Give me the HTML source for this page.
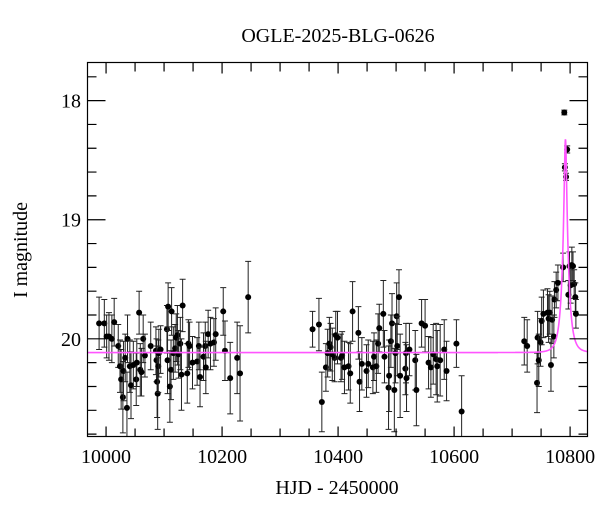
<!DOCTYPE html>
<html><head><meta charset="utf-8"><style>
html,body{margin:0;padding:0;background:#fff;}
svg text{font-family:"Liberation Serif","DejaVu Serif",serif;fill:#000;}
</style></head><body>
<svg id="chart" width="600" height="512" viewBox="0 0 600 512" xmlns="http://www.w3.org/2000/svg">
<text x="338" y="42" font-size="20" text-anchor="middle">OGLE-2025-BLG-0626</text>
<g id="plot"></g>
<text x="337" y="494" font-size="20" text-anchor="middle">HJD - 2450000</text>
<text transform="translate(27,250) rotate(-90)" font-size="20" text-anchor="middle">I magnitude</text>
</svg>
<script>
const hjd = [9988,9997,10001,10005,10010,10014,10021,10024,10026,10029,10030,10033,10036,10037,10041,10043,10047,10052,10053,10057,10059,10061,10064,10067,10077,10086,10087,10088,10089,10090,10091,10094,10105,10107,10106,10110,10112,10113,10116,10119,10121,10123,10125,10128,10130,10132,10140,10142,10144,10149,10157,10160,10162,10168,10171,10172,10176,10180,10186,10189,10202,10205,10214,10226,10231,10245,
10356,10367,10372,10379,10382,10385,10387,10390,10394,10396,10399,10405,10407,10411,10418,10421,10425,10435,10437,10441,10449,10452,10460,10462,10466,10469,10471,10478,10480,10487,10488,10491,10493,10497,10499,10501,10502,10505,10507,10516,10517,10518,10523,10533,10535,10544,10550,10556,10560,10564,10569,10571,10576,10583,10587,10604,10613,
10721,10726,10743,10744,10746,10749,10751,10754,10761,10763,10765,10767,10769,10772,10773,10776,10779,10788,10790,10791,10793,10795,10797,10799,10801,10803,10805,10807,10809,10810];
const mag = [19.87,19.87,19.98,19.98,20.0,19.86,20.06,20.23,20.34,20.49,20.27,20.16,20.58,20.0,20.23,20.39,20.22,20.34,20.2,19.78,20.26,20.28,20.0,20.14,20.06,20.1,20.18,20.36,20.46,20.23,20.12,20.09,19.92,19.73,20.18,20.4,20.26,19.77,20.12,20.08,19.99,19.97,20.13,20.04,20.3,19.72,20.29,20.04,20.06,20.2,20.19,20.06,20.32,20.15,20.06,20.24,19.96,20.04,20.03,19.96,19.77,20.1,20.33,20.16,20.29,19.65,
19.92,19.88,20.53,20.24,20.12,20.04,20.07,20.13,20.16,19.97,19.99,20.16,20.14,20.24,20.23,20.29,19.77,19.95,20.36,20.21,20.27,20.21,20.24,20.15,20.23,20.04,19.91,19.79,20.15,20.41,20.31,20.02,19.87,20.43,20.12,19.81,20.06,19.65,20.31,20.25,20.12,20.33,20.09,20.18,20.43,19.87,19.89,20.2,20.24,20.13,20.17,20.23,20.18,20.09,20.27,20.04,20.61,
20.02,20.06,20.37,19.99,20.18,20.03,19.85,19.79,19.78,19.83,19.78,20.22,19.84,19.98,19.67,19.59,19.53,19.4,18.1,18.56,18.64,18.41,19.63,19.39,19.55,19.38,19.39,19.54,19.65,19.79];
const err = [0.22,0.2,0.18,0.2,0.2,0.2,0.18,0.22,0.25,0.3,0.25,0.2,0.3,0.2,0.22,0.28,0.2,0.22,0.2,0.18,0.22,0.2,0.2,0.18,0.2,0.2,0.18,0.3,0.3,0.22,0.2,0.2,0.2,0.2,0.28,0.3,0.25,0.2,0.22,0.2,0.2,0.25,0.2,0.22,0.3,0.22,0.25,0.2,0.2,0.22,0.2,0.2,0.25,0.2,0.2,0.22,0.2,0.22,0.2,0.22,0.2,0.25,0.3,0.3,0.4,0.3,
0.15,0.22,0.25,0.2,0.2,0.22,0.2,0.22,0.2,0.2,0.22,0.2,0.2,0.22,0.2,0.25,0.25,0.22,0.25,0.22,0.22,0.2,0.22,0.2,0.22,0.25,0.2,0.28,0.22,0.35,0.3,0.22,0.25,0.35,0.25,0.28,0.25,0.23,0.35,0.22,0.25,0.28,0.22,0.25,0.3,0.2,0.22,0.22,0.25,0.25,0.3,0.3,0.3,0.25,0.25,0.2,0.3,
0.2,0.22,0.25,0.22,0.22,0.2,0.2,0.2,0.2,0.2,0.18,0.22,0.2,0.18,0.15,0.15,0.15,0.12,0.02,0.03,0.03,0.03,0.12,0.12,0.15,0.15,0.12,0.12,0.12,0.12];
const model_baseline = [20.115];
const model_t0 = [10792];
const model_tE = [10];
const model_u0 = [0.195];
const xTicks = [10000,10200,10400,10600,10800];
const yTicks = [18,19,20];

const NS='http://www.w3.org/2000/svg';
const L=87.5,R=587.5,T=62.5,B=436.5;
const xMin=9968,xMax=10830,yMin=17.68,yMax=20.82;
const X=v=>L+(v-xMin)/(xMax-xMin)*(R-L);
const Y=v=>T+(v-yMin)/(yMax-yMin)*(B-T);
const g=document.getElementById('plot');
function mk(tag,attrs){const e=document.createElementNS(NS,tag);for(const k in attrs)e.setAttribute(k,attrs[k]);g.appendChild(e);return e;}

for(let i=0;i<hjd.length;i++){
  const x=X(hjd[i]),y=Y(mag[i]),y1=Y(mag[i]-err[i]),y2=Y(Math.min(mag[i]+err[i],yMax));
  const eb=mk('path',{d:`M${x},${y1}V${y2}M${x-3},${y1}H${x+3}`+(mag[i]+err[i]<yMax?`M${x-3},${y2}H${x+3}`:''),stroke:'#222','stroke-width':1,fill:'none'});
  
  
  const c=mk('circle',{cx:x,cy:y,r:3,fill:'#000'});
  
  
}
let d='';
for(let t=xMin;t<=xMax;t+=0.25){
  const u=Math.sqrt(model_u0[0]**2+((t-model_t0[0])/model_tE[0])**2);
  const A=(u*u+2)/(u*Math.sqrt(u*u+4));
  const m=model_baseline[0]-2.5*Math.log10(A);
  d+=(d?'L':'M')+X(t).toFixed(2)+','+Y(m).toFixed(2);
}
const mc=mk('path',{d:d,stroke:'#ff55ff','stroke-width':1.6,fill:'none'});



const fr=mk('rect',{x:L,y:T,width:R-L,height:B-T,fill:'none',stroke:'#000','stroke-width':1.2});


let td='';
for(let v=10000;v<=10800;v+=50){const x=X(v);const maj=v%200===0;const len=maj?10:8;td+=`M${x},${B}V${B-len}M${x},${T}V${T+(maj?11:9)}`;}
for(let v=17.8;v<=20.81;v+=0.2){const y=Y(v);const maj=Math.abs(v-Math.round(v))<0.01;const len=maj?18:9;td+=`M${L},${y}H${L+len}M${R},${y}H${R-len}`;}
const tk=mk('path',{d:td,stroke:'#000','stroke-width':1.2,fill:'none'});


for(const v of xTicks){const t=mk('text',{x:X(v),y:463,'font-size':20,'text-anchor':'middle'});t.textContent=v;

}
for(const v of yTicks){const t=mk('text',{x:81,y:Y(v)+7,'font-size':20,'text-anchor':'end'});t.textContent=v;

}
</script>
</body></html>
